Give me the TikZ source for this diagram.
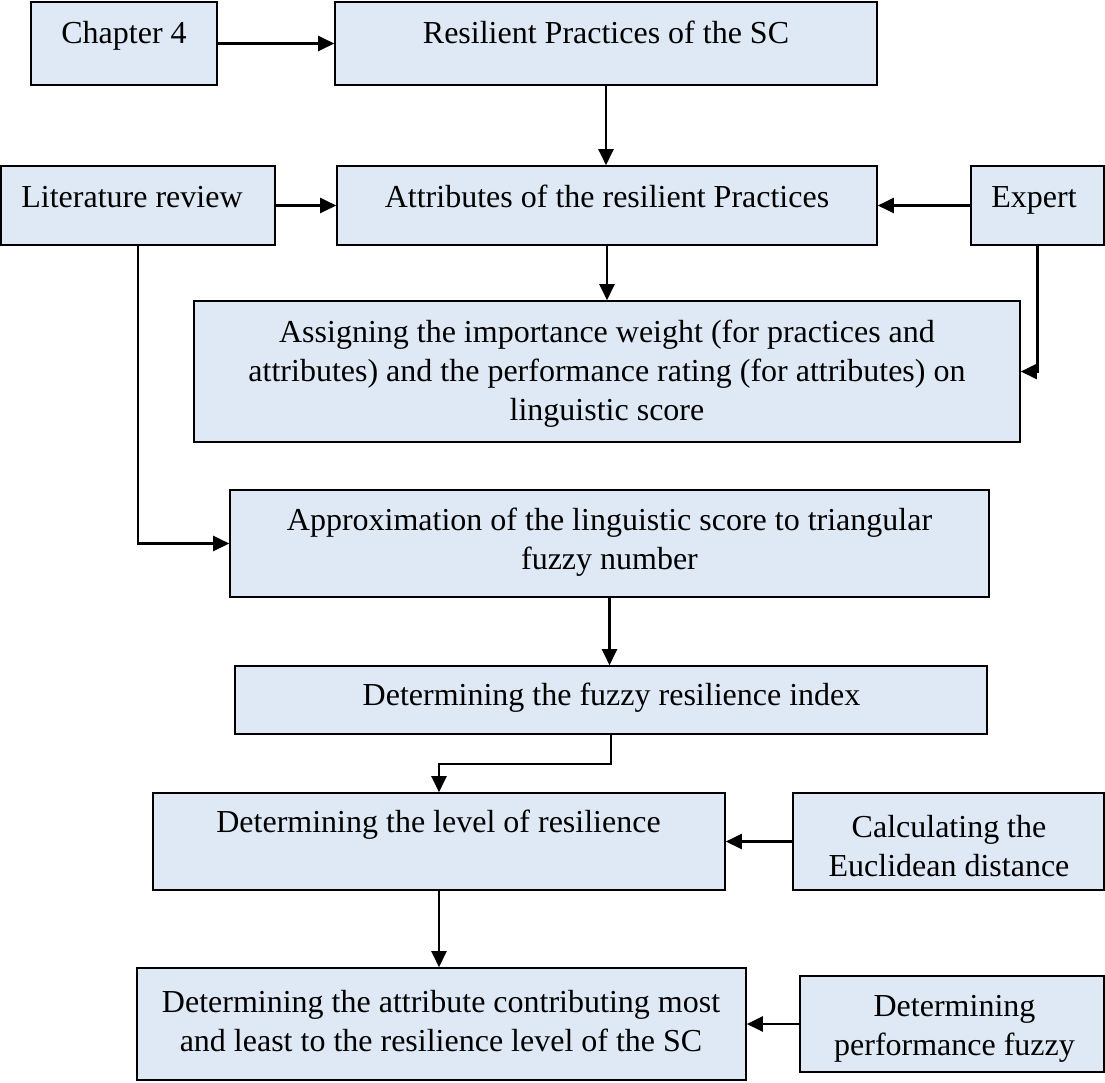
\documentclass[tikz,border=0pt]{standalone}
\usepackage{fontspec}
\setmainfont{Liberation Serif}
\usetikzlibrary{arrows.meta}
\definecolor{boxfill}{RGB}{222,233,245}
\tikzset{
  box/.style={draw=black, line width=1.6pt, fill=boxfill, inner sep=0pt},
  txt/.style={inner sep=0pt, font=\fontsize{32}{39}\selectfont, align=center},
  conn/.style={line width=2.2pt, -{Triangle[length=16pt,width=15pt]}},
}
\begin{document}
\begin{tikzpicture}[x=1pt,y=1pt]
\useasboundingbox (0,0) rectangle (1105,-1082);
% boxes
\node[box, minimum width=186pt, minimum height=83pt] (ch4) at (124,-43.5) {};
\node[box, minimum width=542pt, minimum height=83pt] (res) at (606,-43.5) {};
\node[box, minimum width=274pt, minimum height=79pt] (lit) at (138,-205.5) {};
\node[box, minimum width=540pt, minimum height=79pt] (attr) at (607,-205.5) {};
\node[box, minimum width=133pt, minimum height=79pt] (exp) at (1037.5,-205.5) {};
\node[box, minimum width=826pt, minimum height=141pt] (assign) at (607,-371.5) {};
\node[box, minimum width=759pt, minimum height=107pt] (approx) at (609.5,-543.5) {};
\node[box, minimum width=752pt, minimum height=68pt] (fuzzy) at (611,-700) {};
\node[box, minimum width=572pt, minimum height=97pt] (level) at (439,-841.5) {};
\node[box, minimum width=311pt, minimum height=97pt] (calc) at (948.5,-841.5) {};
\node[box, minimum width=609pt, minimum height=112pt] (most) at (441.5,-1024) {};
\node[box, minimum width=304pt, minimum height=96pt] (perf) at (952,-1024) {};
% texts
\node[txt, anchor=base] (tch4) at (124,-43) {Chapter 4};
\node[txt, anchor=base] (tres) at (606,-43) {Resilient Practices of the SC};
\node[txt, anchor=base] (tlit) at (132,-207) {Literature review};
\node[txt, anchor=base] (tattr) at (607,-207) {Attributes of the resilient Practices};
\node[txt, anchor=base] (texp) at (1034,-207) {Expert};
\node[txt] (tassign) at (607,-374) {Assigning the importance weight (for practices and\\attributes) and the performance rating (for attributes) on\\linguistic score};
\node[txt] (tapprox) at (609.5,-542.5) {Approximation of the linguistic score to triangular\\fuzzy number};
\node[txt, anchor=base] (tfuzzy) at (611.5,-705) {Determining the fuzzy resilience index};
\node[txt, anchor=base] (tlevel) at (438.5,-832) {Determining the level of resilience};
\node[txt] (tcalc) at (949,-846) {Calculating the\\Euclidean distance};
\node[txt] (tmost) at (441,-1021) {Determining the attribute contributing most\\and least to the resilience level of the SC};
\node[txt] (tperf) at (954.5,-1029) {Determining\\performance fuzzy};
% connectors
\draw[conn] (ch4.east) -- (res.west);
\draw[conn] (res.south) -- (res.south |- attr.north);
\draw[conn] (lit.east) -- (attr.west);
\draw[conn] (exp.west) -- (attr.east);
\draw[conn] (attr.south) -- (attr.south |- assign.north);
\draw[conn] (exp.south) |- (assign.east);
\draw[conn] (lit.south) |- (approx.west);
\draw[conn] (approx.south) -- (approx.south |- fuzzy.north);
\draw[conn] (fuzzy.south) -- ++(0,-29) -| (level.north);
\draw[conn] (calc.west) -- (level.east);
\draw[conn] (level.south) -- (level.south |- most.north);
\draw[conn] (perf.west) -- (most.east);
\end{tikzpicture}
\end{document}
